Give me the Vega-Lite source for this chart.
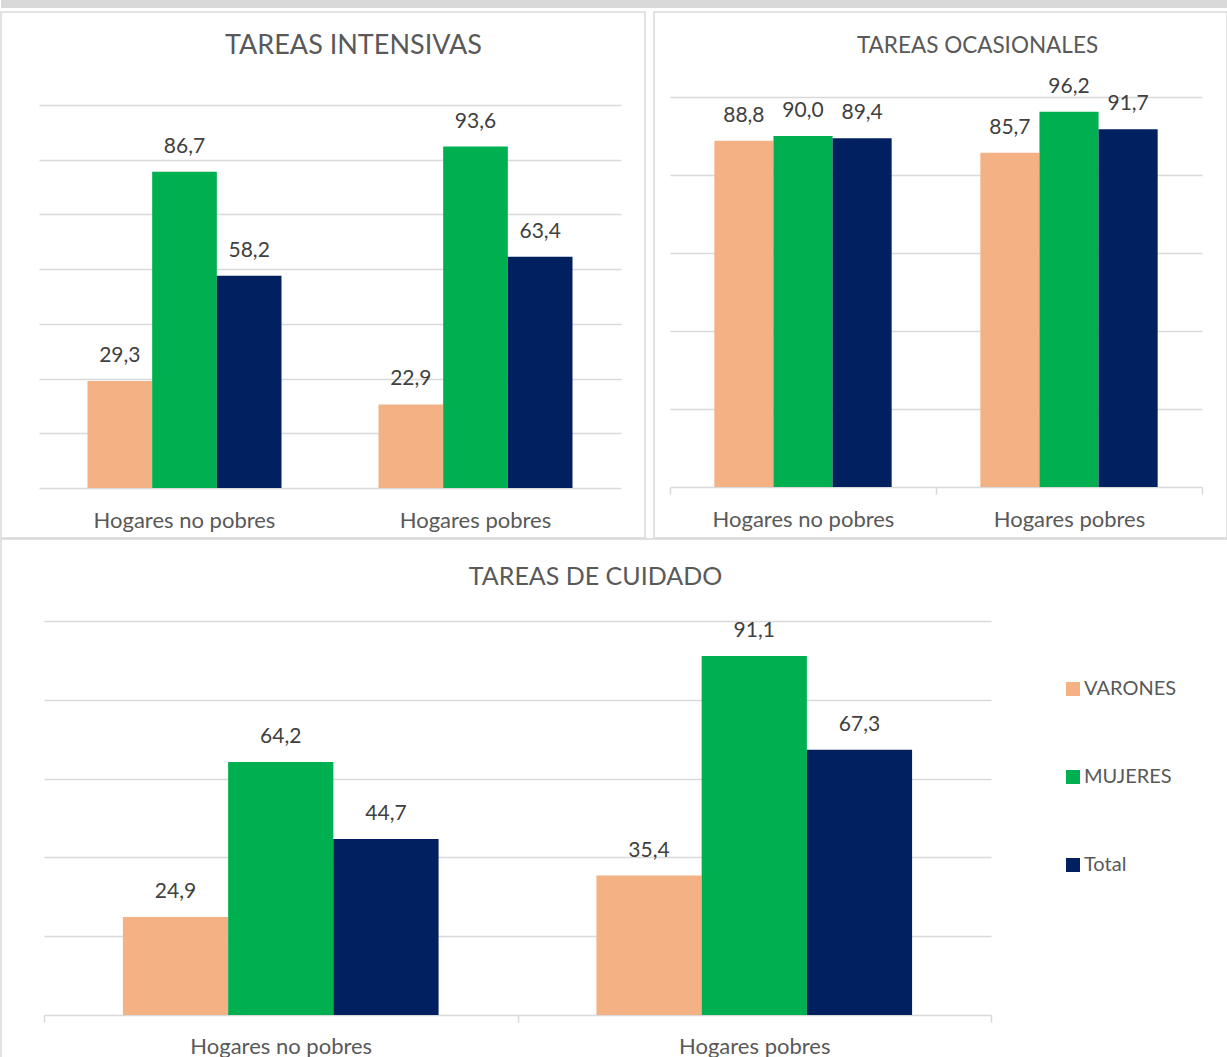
{
  "$schema": "https://vega.github.io/schema/vega-lite/v6.json",
  "padding": 0,
  "background": "white",
  "spacing": -2,
  "config": {
    "locale": {"number": {"decimal": ",", "thousands": ".", "grouping": [3], "currency": ["", " €"]}},
    "font": "Lato",
    "view": {"stroke": "#d9d9d9", "strokeWidth": 1.5},
    "concat": {"spacing": 0}
  },
  "datasets": {
    "intensivas": [
      {"hogar": "Hogares no pobres", "sexo": "VARONES", "pct": 29.3},
      {"hogar": "Hogares no pobres", "sexo": "MUJERES", "pct": 86.7},
      {"hogar": "Hogares no pobres", "sexo": "Total", "pct": 58.2},
      {"hogar": "Hogares pobres", "sexo": "VARONES", "pct": 22.9},
      {"hogar": "Hogares pobres", "sexo": "MUJERES", "pct": 93.6},
      {"hogar": "Hogares pobres", "sexo": "Total", "pct": 63.4}
    ],
    "ocasionales": [
      {"hogar": "Hogares no pobres", "sexo": "VARONES", "pct": 88.8},
      {"hogar": "Hogares no pobres", "sexo": "MUJERES", "pct": 90.0},
      {"hogar": "Hogares no pobres", "sexo": "Total", "pct": 89.4},
      {"hogar": "Hogares pobres", "sexo": "VARONES", "pct": 85.7},
      {"hogar": "Hogares pobres", "sexo": "MUJERES", "pct": 96.2},
      {"hogar": "Hogares pobres", "sexo": "Total", "pct": 91.7}
    ],
    "cuidado": [
      {"hogar": "Hogares no pobres", "sexo": "VARONES", "pct": 24.9},
      {"hogar": "Hogares no pobres", "sexo": "MUJERES", "pct": 64.2},
      {"hogar": "Hogares no pobres", "sexo": "Total", "pct": 44.7},
      {"hogar": "Hogares pobres", "sexo": "VARONES", "pct": 35.4},
      {"hogar": "Hogares pobres", "sexo": "MUJERES", "pct": 91.1},
      {"hogar": "Hogares pobres", "sexo": "Total", "pct": 67.3}
    ],
    "strip": [{"k": 1}]
  },
  "resolve": {"scale": {"x": "independent", "xOffset": "independent", "y": "independent"}, "legend": {"color": "independent"}},
  "vconcat": [
    {
      "spacing": 3,
      "resolve": {"scale": {"x": "independent", "xOffset": "independent", "y": "independent"}, "legend": {"color": "independent"}},
      "vconcat": [
        {
          "width": 1227,
          "height": 8,
          "view": {"fill": "#d9d9d9", "stroke": null},
          "data": {"name": "strip"},
          "mark": {"type": "text", "text": "", "fontSize": 0}
        },
        {
          "spacing": 7,
          "resolve": {"scale": {"x": "independent", "xOffset": "independent", "y": "independent"}, "legend": {"color": "independent"}},
          "hconcat": [
            {
              "width": 644,
              "height": 526,
              "data": {"name": "intensivas"},
              "encoding": {
                "x": {"field": "hogar", "type": "nominal", "sort": ["Hogares no pobres", "Hogares pobres"],
                  "scale": {"range": [38, 620], "paddingInner": 0, "paddingOuter": 0},
                  "axis": {"title": null, "labelAngle": 0, "labelLimit": 0, "domain": false, "ticks": false, "grid": false, "labelFontSize": 22, "labelColor": "#595959", "labelPadding": 32, "labelBaseline": "middle", "offset": -50}},
                "xOffset": {"field": "sexo", "type": "nominal", "sort": ["VARONES", "MUJERES", "Total"], "scale": {"paddingInner": 0, "paddingOuter": 0.75}},
                "y": {"field": "pct", "type": "quantitative",
                  "scale": {"domain": [0, 105], "range": [476, 93], "nice": false, "zero": true},
                  "axis": {"title": "TAREAS INTENSIVAS", "titleAngle": 0, "titleX": 352, "titleY": 33, "titleAlign": "center", "titleBaseline": "middle", "titleFontSize": 27, "titleFontWeight": "normal", "titleColor": "#595959",
                    "domain": false, "ticks": false, "labels": false, "values": [0, 15, 30, 45, 60, 75, 90, 105], "gridColor": "#d9d9d9", "gridWidth": 1.5}}
              },
              "layer": [
                {"mark": {"type": "bar"},
                 "encoding": {"color": {"field": "sexo", "type": "nominal", "scale": {"domain": ["VARONES", "MUJERES", "Total"], "range": ["#F4B183", "#00B050", "#002060"]}, "legend": null}}},
                {"mark": {"type": "text", "baseline": "alphabetic", "dy": -19, "fontSize": 21, "color": "#404040"},
                 "encoding": {"text": {"field": "pct", "type": "quantitative", "format": ".1f"}}}
              ]
            },
            {
              "width": 573,
              "height": 526,
              "data": {"name": "ocasionales"},
              "encoding": {
                "x": {"field": "hogar", "type": "nominal", "sort": ["Hogares no pobres", "Hogares pobres"],
                  "scale": {"range": [16, 548], "paddingInner": 0, "paddingOuter": 0},
                  "axis": {"title": null, "labelAngle": 0, "labelLimit": 0, "domain": true, "domainColor": "#d9d9d9", "domainWidth": 1.5, "ticks": true, "tickBand": "extent", "tickColor": "#d9d9d9", "tickWidth": 1.5, "tickSize": 7, "grid": false, "labelFontSize": 22, "labelColor": "#595959", "labelPadding": 25, "labelBaseline": "middle", "offset": -51}},
                "xOffset": {"field": "sexo", "type": "nominal", "sort": ["VARONES", "MUJERES", "Total"], "scale": {"paddingInner": 0, "paddingOuter": 0.75}},
                "y": {"field": "pct", "type": "quantitative",
                  "scale": {"domain": [0, 100], "range": [475, 85], "nice": false, "zero": true},
                  "axis": {"title": "TAREAS OCASIONALES", "titleAngle": 0, "titleX": 323, "titleY": 33, "titleAlign": "center", "titleBaseline": "middle", "titleFontSize": 22.5, "titleFontWeight": "normal", "titleColor": "#595959",
                    "domain": false, "ticks": false, "labels": false, "values": [20, 40, 60, 80, 100], "gridColor": "#d9d9d9", "gridWidth": 1.5}}
              },
              "layer": [
                {"mark": {"type": "bar"},
                 "encoding": {"color": {"field": "sexo", "type": "nominal", "scale": {"domain": ["VARONES", "MUJERES", "Total"], "range": ["#F4B183", "#00B050", "#002060"]}, "legend": null}}},
                {"mark": {"type": "text", "baseline": "alphabetic", "dy": -19, "fontSize": 21, "color": "#404040"},
                 "encoding": {"text": {"field": "pct", "type": "quantitative", "format": ".1f"}}}
              ]
            }
          ]
        }
      ]
    },
    {
      "width": 1227,
      "height": 519,
      "data": {"name": "cuidado"},
      "encoding": {
        "x": {"field": "hogar", "type": "nominal", "sort": ["Hogares no pobres", "Hogares pobres"],
          "scale": {"range": [43, 990], "paddingInner": 0, "paddingOuter": 0},
          "axis": {"title": null, "labelAngle": 0, "labelLimit": 0, "domain": true, "domainColor": "#d9d9d9", "domainWidth": 1.5, "ticks": true, "tickBand": "extent", "tickColor": "#d9d9d9", "tickWidth": 1.5, "tickSize": 7, "grid": false, "labelFontSize": 22, "labelColor": "#595959", "labelPadding": 24, "labelBaseline": "middle", "offset": -43}},
        "xOffset": {"field": "sexo", "type": "nominal", "sort": ["VARONES", "MUJERES", "Total"], "scale": {"paddingInner": 0, "paddingOuter": 0.75}},
        "y": {"field": "pct", "type": "quantitative",
          "scale": {"domain": [0, 100], "range": [476, 82], "nice": false, "zero": true},
          "axis": {"title": "TAREAS DE CUIDADO", "titleAngle": 0, "titleX": 594, "titleY": 37, "titleAlign": "center", "titleBaseline": "middle", "titleFontSize": 25, "titleFontWeight": "normal", "titleColor": "#595959",
            "domain": false, "ticks": false, "labels": false, "values": [20, 40, 60, 80, 100], "gridColor": "#d9d9d9", "gridWidth": 1.5}}
      },
      "layer": [
        {"mark": {"type": "bar"},
         "encoding": {"color": {"field": "sexo", "type": "nominal", "sort": ["VARONES", "MUJERES", "Total"], "scale": {"domain": ["VARONES", "MUJERES", "Total"], "range": ["#F4B183", "#00B050", "#002060"]},
           "legend": {"orient": "none", "legendX": 1062, "legendY": 140, "padding": 0, "title": null, "symbolType": "square", "symbolSize": 196, "symbolStrokeWidth": 0, "labelFontSize": 20, "labelColor": "#595959", "rowPadding": 68, "labelOffset": 1}}}},
        {"mark": {"type": "text", "baseline": "alphabetic", "dy": -19, "fontSize": 21, "color": "#404040"},
         "encoding": {"text": {"field": "pct", "type": "quantitative", "format": ".1f"}}}
      ]
    }
  ]
}
